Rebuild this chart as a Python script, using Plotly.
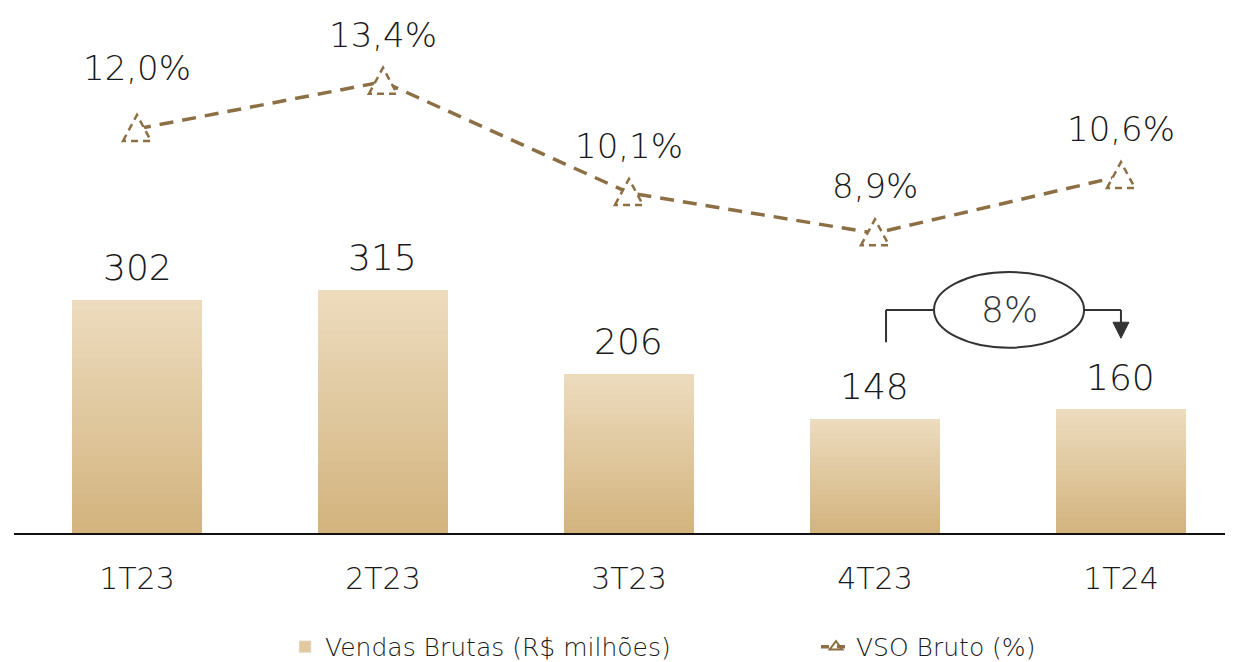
import plotly.graph_objects as go

categories = ["1T23", "2T23", "3T23", "4T23", "1T24"]
vendas = [302, 315, 206, 148, 160]
vso = [12.0, 13.4, 10.1, 8.9, 10.6]
vso_labels = ["12,0%", "13,4%", "10,1%", "8,9%", "10,6%"]
growth_label = "8%"

LINE_C = "#8C6F45"
TXT = "#1a1a1a"
FONT = "DejaVu Sans"
FW = 200
top_c = (236, 219, 189)
bot_c = (211, 180, 127)

x = list(range(len(categories)))
fig = go.Figure()

# gradient bars (overlapping slices, darker at bottom)
N = 24
for k in range(N):
    t = k / (N - 1)
    c = tuple(round(bot_c[j] + (top_c[j] - bot_c[j]) * t) for j in range(3))
    base = [v * k / N for v in vendas]
    fig.add_trace(go.Bar(
        x=x, y=[v - b for v, b in zip(vendas, base)], base=base,
        width=0.53, marker=dict(color="rgb(%d,%d,%d)" % c, line=dict(width=0)),
        showlegend=False, hoverinfo="skip", yaxis="y"))

# legend-only bar
fig.add_trace(go.Bar(x=[None], y=[None], name="Vendas Brutas (R$ milhões)",
                     marker=dict(color="rgb(226,202,160)"), showlegend=True,
                     legend="legend"))

fig.add_trace(go.Scatter(x=x, y=vso, mode="lines", yaxis="y2",
                         line=dict(color=LINE_C, width=3.5, dash="14px,9px"),
                         showlegend=False))
fig.add_trace(go.Scatter(x=[None], y=[None], mode="lines+markers", yaxis="y2",
                         name="VSO Bruto (%)", legend="legend2",
                         line=dict(color=LINE_C, width=3.5, dash="8px,8px"),
                         marker=dict(symbol="triangle-up-open", size=11,
                                     color=LINE_C, line=dict(width=2))))

shapes = []
for i, v in enumerate(vso):
    shapes.append(dict(type="path", xref="x", yref="y2", xsizemode="pixel",
                       ysizemode="pixel", xanchor=i, yanchor=v,
                       path="M -14,-12 L 0,14 L 14,-12 Z", fillcolor="white",
                       line=dict(color=LINE_C, width=2.5, dash="7px,5px"),
                       layer="above"))

annotations = []
for i, v in enumerate(vendas):
    annotations.append(dict(x=i, y=v, xref="x", yref="y", text=str(v),
                            showarrow=False, yanchor="middle", yshift=32,
                            font=dict(size=36, color=TXT, family=FONT, weight=FW)))
label_shift = [61, 47, 47, 47, 47]
for i, (v, lab) in enumerate(zip(vso, vso_labels)):
    annotations.append(dict(x=i, y=v, xref="x", yref="y2", text=lab,
                            showarrow=False, yanchor="middle", yshift=label_shift[i],
                            font=dict(size=34, color=TXT, family=FONT, weight=FW)))

# growth bracket between 4T23 and 1T24
bx0, bx1 = 3.045, 4.0
by = 289
ex0, ex1, ey0, ey1 = 3.24, 3.85, 240, 338
GC = "#333333"
shapes += [
    dict(type="line", xref="x", yref="y", x0=bx0, x1=bx0, y0=247, y1=by,
         line=dict(color=GC, width=2)),
    dict(type="line", xref="x", yref="y", x0=bx0, x1=bx1, y0=by, y1=by,
         line=dict(color=GC, width=2)),
    dict(type="line", xref="x", yref="y", x0=bx1, x1=bx1, y0=by, y1=272,
         line=dict(color=GC, width=2)),
    dict(type="path", xref="x", yref="y", xsizemode="pixel", ysizemode="pixel",
         xanchor=bx1, yanchor=273, path="M -8,0 L 8,0 L 0,-16 Z",
         fillcolor=GC, line=dict(color=GC, width=1)),
    dict(type="circle", xref="x", yref="y", x0=ex0, x1=ex1, y0=ey0, y1=ey1,
         fillcolor="white", line=dict(color=GC, width=2)),
]
annotations.append(dict(x=(ex0 + ex1) / 2, y=by, xref="x", yref="y",
                        text=growth_label, showarrow=False,
                        font=dict(size=36, color=GC, family=FONT, weight=FW)))

legend_font = dict(size=25, color=TXT, family=FONT, weight=FW)
fig.update_layout(
    width=1233, height=662,
    margin=dict(l=6, r=0, t=0, b=137),
    plot_bgcolor="white", paper_bgcolor="white",
    barmode="overlay", bargap=0,
    font=dict(family=FONT, color=TXT, weight=FW),
    xaxis=dict(range=[-0.5, 4.488], tickvals=x, ticktext=categories,
               showgrid=False, zeroline=False, showline=True,
               linecolor="#111111", linewidth=2, ticks="",
               tickfont=dict(size=30, color=TXT, family=FONT, weight=FW),
               ticklabelstandoff=18),
    yaxis=dict(range=[0, 680.0], visible=False, showgrid=False),
    yaxis2=dict(range=[0, 15.59], overlaying="y", visible=False, showgrid=False),
    showlegend=True,
    legend=dict(orientation="h", xref="container", yref="container",
                x=0.2247, xanchor="left", y=0.0348, yanchor="middle",
                font=legend_font),
    legend2=dict(orientation="h", xref="container", yref="container",
                 x=0.6553, xanchor="left", y=0.0348, yanchor="middle",
                 font=legend_font),
    shapes=shapes, annotations=annotations,
)

fig.write_html("out.html")
